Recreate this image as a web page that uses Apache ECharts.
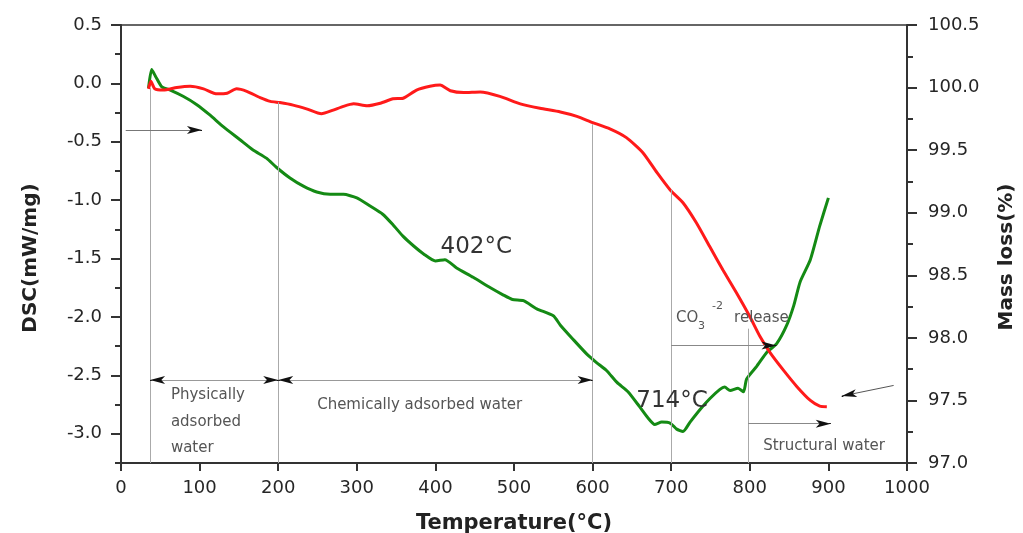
<!DOCTYPE html>
<html><head><meta charset="utf-8">
<script src="https://cdn.jsdelivr.net/npm/echarts@6/dist/echarts.min.js"></script>
<style>html,body{margin:0;padding:0;background:#fff}#c{width:1023px;height:533px}</style>
</head><body><div id="c"></div>
<script>
// ---- data ----
const dscTemps = [35,39,44,52,62,79,96,113,130,151,168,185,198,215,232,249,266,283,300,317,333,346,359,372,385,400,412,427,448,470,486,498,512,529,550,559,575,593,605,618,631,645,660,670,679,688,699,707,715,724,737,749,762,768,775,785,792,796,809,822,834,847,856,864,877,889,900];
const dscValues = [-0.04,0.12,0.06,-0.03,-0.055,-0.11,-0.18,-0.27,-0.37,-0.48,-0.57,-0.64,-0.72,-0.81,-0.88,-0.93,-0.95,-0.95,-0.98,-1.05,-1.12,-1.21,-1.31,-1.39,-1.46,-1.52,-1.51,-1.58,-1.66,-1.75,-1.81,-1.85,-1.86,-1.93,-1.99,-2.07,-2.19,-2.32,-2.39,-2.46,-2.56,-2.64,-2.77,-2.86,-2.92,-2.90,-2.91,-2.96,-2.98,-2.90,-2.79,-2.70,-2.62,-2.60,-2.63,-2.61,-2.64,-2.53,-2.42,-2.30,-2.23,-2.07,-1.90,-1.70,-1.51,-1.22,-0.98];
const massTemps = [35,38,43,54,71,88,105,122,135,147,160,177,190,202,219,236,255,270,283,296,313,330,346,359,376,393,406,419,436,457,482,508,533,559,580,600,622,643,664,682,699,715,732,749,766,783,800,813,826,843,860,877,889,898];
const massValues = [99.99,100.05,99.99,99.98,100.00,100.01,99.99,99.95,99.955,99.99,99.97,99.92,99.89,99.88,99.86,99.83,99.79,99.82,99.85,99.87,99.855,99.875,99.91,99.915,99.98,100.01,100.02,99.975,99.96,99.965,99.93,99.87,99.835,99.805,99.77,99.72,99.67,99.60,99.48,99.32,99.18,99.08,98.92,98.73,98.54,98.36,98.17,98.01,97.88,97.74,97.61,97.50,97.455,97.45];
const dscTickLabels = [-3.0,-2.5,-2.0,-1.5,-1.0,-0.5,0.0,0.5];
const massTickLabels = [97.0,97.5,98.0,98.5,99.0,99.5,100.0,100.5];
const tempTickLabels = [0,100,200,300,400,500,600,700,800,900,1000];

// annotation guides (temperature, DSC units)
const guideLines = [ [37,-3.25,-0.04], [200,-3.25,-0.16], [600,-3.25,-0.35], [700,-3.25,-0.91], [798,-3.25,-2.10] ];
// [x1, y1, x2, y2, arrowAtStart, arrowAtEnd, lineColor]
const arrowLines = [
  [37,-2.54,200,-2.54,true,true,'#999'],
  [200,-2.54,600,-2.54,true,true,'#999'],
  [6,-0.40,103,-0.40,false,true,'#777'],
  [700,-2.245,834,-2.245,false,true,'#888'],
  [798,-2.913,903,-2.913,false,true,'#888'],
  [983,-2.586,917,-2.677,false,true,'#555']
];
const notes = [
  {t:'402°C', at:[452,-1.40], size:23, align:'center', color:'#333'},
  {t:'714°C', at:[701,-2.72], size:23, align:'center', color:'#333'},
  {t:'Physically', at:[63.5,-2.671], size:15, align:'left', color:'#555'},
  {t:'adsorbed', at:[63.5,-2.896], size:15, align:'left', color:'#555'},
  {t:'water', at:[63.5,-3.126], size:15, align:'left', color:'#555'},
  {t:'Chemically adsorbed water', at:[380,-2.757], size:15, align:'center', color:'#555'},
  {t:'Structural water', at:[817,-3.109], size:15, align:'left', color:'#555'},
  {t:'CO', at:[706,-2.009], size:15, align:'left', color:'#555'},
  {t:'3', at:[734,-2.077], size:11, align:'left', color:'#555'},
  {t:'-2', at:[752,-1.904], size:11, align:'left', color:'#555'},
  {t:'release', at:[780,-2.009], size:15, align:'left', color:'#555'}
];

const FONT = 'DejaVu Sans';
const greenData = dscTemps.map((t,i)=>[t,dscValues[i]]);
const redData = massTemps.map((t,i)=>[t,massValues[i]]);

const mlData = [];
guideLines.forEach(g=>{
  mlData.push([{coord:[g[0],g[1]],symbol:'none'},{coord:[g[0],g[2]],symbol:'none',lineStyle:{color:'#aaa',width:1}}]);
});
arrowLines.forEach(a=>{
  mlData.push([{coord:[a[0],a[1]],symbol:'none'},{coord:[a[2],a[3]],symbol:'none',lineStyle:{color:a[6],width:1}}]);
  const dx=a[2]-a[0], dy=a[3]-a[1];
  const len=Math.sqrt(dx*dx+dy*dy);
  if(a[5]){
    mlData.push([{coord:[a[2]-dx/len*2,a[3]-dy/len*2],symbol:'none'},{coord:[a[2],a[3]],symbol:'arrow',symbolSize:[6,15],lineStyle:{color:'#111',width:1}}]);
  }
  if(a[4]){
    mlData.push([{coord:[a[0]+dx/len*2,a[1]+dy/len*2],symbol:'none'},{coord:[a[0],a[1]],symbol:'arrow',symbolSize:[6,15],lineStyle:{color:'#111',width:1}}]);
  }
});

const chart = echarts.init(document.getElementById('c'), null, {renderer:'canvas'});
const labelStyle = {fontFamily:FONT, fontSize:18, color:'#262626'};
const option = {
  animation:false,
  backgroundColor:'#fff',
  grid:{left:121,right:116,top:25,bottom:70,show:true,borderColor:'#666',borderWidth:2,containLabel:false,outerBoundsMode:'none'},
  xAxis:{
    type:'value', min:0, max:1000, interval:100,
    name:'Temperature(°C)', nameLocation:'middle', nameGap:50,
    nameTextStyle:{fontFamily:FONT,fontWeight:'bold',fontSize:21,color:'#222'},
    axisLine:{show:true,onZero:false,lineStyle:{color:'#333',width:2}},
    axisTick:{show:true,inside:false,length:8,lineStyle:{color:'#333',width:2}},
    axisLabel:Object.assign({margin:16, formatter:v=>tempTickLabels.includes(v)?String(v):''},labelStyle),
    splitLine:{show:false}
  },
  yAxis:[
    {
      type:'value', position:'left', min:-3.25, max:0.5,
      name:'DSC(mW/mg)', nameLocation:'middle', nameGap:80, nameRotate:90,
      nameTextStyle:{fontFamily:FONT,fontWeight:'bold',fontSize:20,color:'#222',padding:[0,28,0,0]},
      axisLine:{show:true,onZero:false,lineStyle:{color:'#333',width:2}},
      axisTick:{show:true,length:10,customValues:dscTickLabels,lineStyle:{color:'#333',width:2}},
      axisLabel:Object.assign({margin:19,customValues:dscTickLabels,formatter:v=>v.toFixed(1)},labelStyle),
      splitLine:{show:false}
    },
    {
      type:'value', position:'left', min:-3.25, max:0.5, interval:0.25,
      axisLine:{show:false,onZero:false},
      axisTick:{show:true,length:6,lineStyle:{color:'#333',width:2}},
      axisLabel:{show:false}, splitLine:{show:false}
    },
    {
      type:'value', position:'right', min:97, max:100.5, interval:0.5,
      name:'Mass loss(%)', nameLocation:'middle', nameGap:90, nameRotate:90,
      nameTextStyle:{fontFamily:FONT,fontWeight:'bold',fontSize:20,color:'#222',padding:[0,26,0,0]},
      axisLine:{show:true,onZero:false,lineStyle:{color:'#333',width:2}},
      axisTick:{show:true,length:10,lineStyle:{color:'#333',width:2}},
      minorTick:{show:true,splitNumber:2,length:6,lineStyle:{color:'#333',width:2}},
      axisLabel:Object.assign({margin:21,formatter:v=>massTickLabels.some(m=>Math.abs(m-v)<1e-6)?v.toFixed(1):''},labelStyle),
      splitLine:{show:false}, minorSplitLine:{show:false}
    }
  ],
  series:[
    {
      type:'line', name:'DSC', yAxisIndex:0, data:greenData, showSymbol:false, smooth:0.2,
      lineStyle:{color:'#148a14',width:3}, itemStyle:{color:'#148a14'}, z:3,
      markLine:{silent:true,animation:false,symbol:['none','none'],label:{show:false},
        lineStyle:{color:'#999',width:1,type:'solid'},emphasis:{disabled:true},data:mlData}
    },
    {
      type:'line', name:'Mass', yAxisIndex:2, data:redData, showSymbol:false, smooth:0.2,
      lineStyle:{color:'#ff1a1a',width:3}, itemStyle:{color:'#ff1a1a'}, z:4
    }
  ]
};
chart.setOption(option);
const gfx = notes.map(n=>{
  const p = chart.convertToPixel({xAxisIndex:0,yAxisIndex:0}, n.at);
  return {type:'text', x:p[0], y:p[1], silent:true, z:10,
    style:{text:n.t, fill:n.color, font:n.size+'px "'+FONT+'"', align:n.align, textAlign:n.align, verticalAlign:'middle', textVerticalAlign:'middle'}};
});
chart.setOption({graphic:gfx});
</script>
</body></html>
